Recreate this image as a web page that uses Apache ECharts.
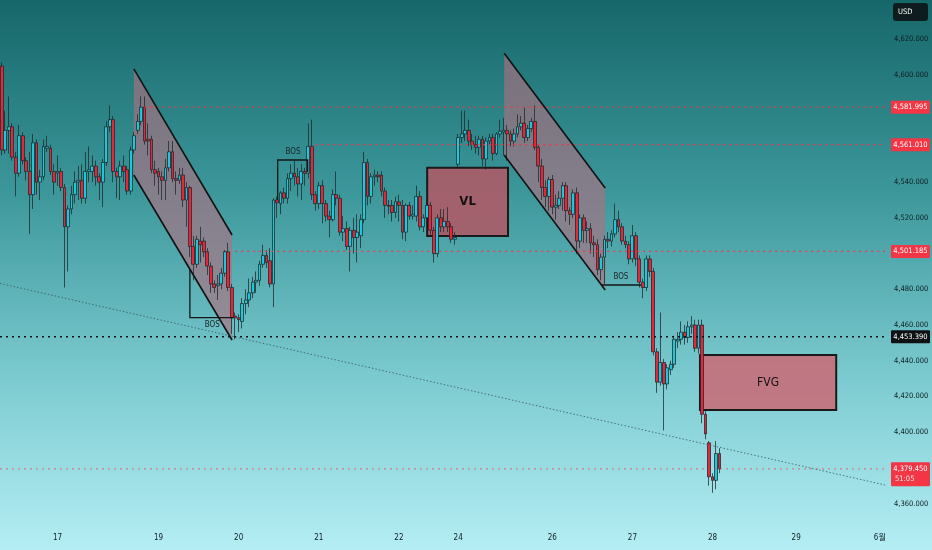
<!DOCTYPE html>
<html><head><meta charset="utf-8">
<script src="https://cdn.jsdelivr.net/npm/echarts@6/dist/echarts.min.js"></script>
<style>html,body{margin:0;padding:0;overflow:hidden}#c{width:932px;height:550px;}</style>
</head><body><div id="c"></div>
<script>
// ---------- data ----------
const SLOTS = 254;
const dayLabels = ['17','19','20','21','22','24','26','27','28','29','6월'];
const dayIndex  = [16,45,68,91,114,131,158,181,204,228,252];
const priceTicks = [4360,4400,4420,4440,4460,4480,4520,4540,4600,4620];
// [open, close, low, high]
const candles = [
[4605,4558,4555,4607],[4558,4569,4556,4580],[4569,4571,4556,4588],[4571,4554,4552,4573],[4554,4545,4532,4557],
[4545,4566,4543,4572],[4566,4552,4550,4568],[4552,4546,4541,4554],[4546,4533,4511,4557],[4533,4562,4525,4567],
[4562,4540,4533,4564],[4540,4543,4530,4547],[4543,4560,4541,4564],[4559,4560,4557,4566],[4559,4546,4544,4561],
[4546,4540,4533,4550],[4545,4546,4538,4555],[4546,4537,4535,4548],[4537,4515,4481,4539],[4515,4525,4490,4527],
[4525,4533,4522,4538],[4533,4540,4528,4546],[4540,4541,4530,4549],[4541,4531,4528,4550],[4531,4546,4528,4557],
[4546,4547,4540,4560],[4546,4549,4540,4555],[4549,4543,4538,4552],[4543,4540,4530,4545],[4540,4551,4526,4553],
[4551,4571,4549,4574],[4571,4575,4568,4583],[4575,4546,4540,4577],[4546,4543,4531,4548],[4543,4549,4530,4552],
[4549,4546,4540,4555],[4547,4535,4533,4549],[4535,4558,4533,4560],[4558,4566,4556,4568],[4569,4574,4567,4578],
[4574,4582,4572,4588],[4582,4563,4561,4588],[4564,4563,4555,4573],[4564,4547,4545,4566],[4547,4545,4538,4552],
[4546,4543,4533,4548],[4543,4541,4530,4546],[4541,4548,4530,4553],[4548,4557,4546,4563],[4557,4542,4540,4563],
[4542,4541,4533,4546],[4541,4544,4539,4548],[4544,4530,4526,4548],[4530,4537,4515,4540],[4537,4504,4498,4538],
[4504,4494,4485,4510],[4494,4508,4492,4510],[4507,4505,4495,4515],[4507,4501,4498,4509],[4501,4493,4488,4503],
[4493,4483,4478,4495],[4483,4481,4478,4485],[4482,4483,4474,4488],[4483,4489,4480,4492],[4489,4501,4487,4502],
[4501,4481,4479,4506],[4481,4464,4455,4483],[4465,4464,4452,4467],[4464,4463,4456,4466],[4462,4472,4458,4475],
[4472,4474,4466,4480],[4474,4478,4470,4486],[4478,4484,4475,4487],[4484,4485,4478,4490],[4485,4494,4482,4496],
[4494,4499,4492,4505],[4499,4495,4492,4502],[4496,4483,4481,4503],[4483,4530,4470,4531],[4530,4528.5,4520,4532],
[4528,4534,4522,4535],[4534,4531,4528,4537],[4531,4542,4528,4545],[4542,4545,4535,4550],[4545,4543,4538,4552],
[4543,4539,4532,4548],[4539,4546,4530,4550],[4546,4545,4538,4548],[4545,4560,4542,4573],[4560,4533,4530,4575],
[4533,4528,4524,4535],[4528,4538,4525,4540],[4538,4528,4517,4541],[4528,4521,4518,4530],[4521,4519,4509,4524],
[4519,4533,4518,4536],[4533,4531,4527,4546],[4531,4512,4510,4533],[4512,4514,4507,4521],[4514,4504,4502,4518],
[4504,4513,4490,4515],[4513,4509,4500,4520],[4509,4512,4495,4522],[4510,4519,4503,4522],[4519,4551,4517,4557],
[4551,4532,4527,4553],[4532,4543,4528,4545],[4543,4544,4538,4547],[4544,4543,4540,4546],[4544,4535,4532,4546],
[4535,4527,4520,4537],[4527,4526.5,4522,4530],[4527,4523,4518,4530],[4523,4529,4520,4532],[4529,4527,4518,4533],
[4527,4512,4508,4530],[4512,4527,4507,4528],[4527,4521,4519,4529],[4521,4522,4519,4527],[4521,4532,4518,4538],
[4532,4515,4513,4535],[4515,4520,4512,4522],[4520,4527,4518,4530],[4527,4513,4510,4529],[4513,4500,4495,4515],
[4500,4520,4498,4522],[4520,4515,4512,4525],[4515,4518,4512,4525],[4518,4515,4512,4526],[4515,4508,4506,4517],
[4508,4509,4505,4512],[4550,4565,4548,4567],[4565,4567,4562,4580],[4567,4569,4563,4580],[4569,4563,4560,4575],
[4563,4561,4558,4567],[4561,4559.5,4556,4566],[4559.5,4564,4555,4566],[4564,4553,4549,4566],[4553,4563,4547,4565],
[4563,4565,4561,4567],[4565,4556,4552,4567],[4556,4567,4555,4568],[4567,4568.5,4565,4575],[4568,4569,4555,4576],
[4569,4567,4552,4572],[4567,4563,4560,4569],[4563,4567,4560,4570],[4567,4571,4565,4578],[4571,4573,4569,4577],
[4573,4565,4562,4582],[4565,4570,4563,4572],[4570,4574,4568,4576],[4574,4559.5,4558,4583],[4559.5,4549,4540,4561],
[4549,4537,4530,4553],[4537,4532,4526,4541],[4532,4541.5,4524,4543],[4541.5,4526,4522,4544],[4526,4527,4519,4533],
[4527,4531,4525,4535],[4531,4538,4524,4540],[4538,4524,4518,4540],[4524,4522,4516,4526],[4522,4534,4520,4536],
[4534,4507,4500,4537],[4507,4520,4503,4522],[4520,4513,4506,4522],[4513,4514,4506,4518],[4514,4506,4500,4517],
[4506,4505,4498,4510],[4505,4491,4488,4508],[4491,4498,4485,4500],[4498,4508,4483,4510],[4508,4507,4503,4512],
[4507,4511,4504,4513],[4511,4519,4509,4528],[4519,4515,4512,4524],[4515,4507,4505,4517],[4507,4505,4503,4510],
[4505,4497,4494,4507],[4497,4510,4495,4516],[4510,4497,4493,4512],[4497,4484,4481,4499],[4484,4481,4475,4486],
[4481,4497,4479,4499],[4497,4490,4487,4499],[4490,4445,4443,4492],[4445,4428,4422,4447],[4428,4439,4426,4467],
[4439,4427,4401,4441],[4427,4436,4424,4438],[4435,4438,4432,4440],[4438,4452,4436,4454],[4451,4452,4447,4456],
[4452,4456,4449,4462],[4456,4453,4449,4460],[4453,4459,4450,4462],[4459,4460,4455,4465],[4460,4447,4445,4463],
[4447,4460,4444,4463],[4460,4410,4405,4463],[4410,4399,4396,4412],[4394,4375,4370,4395],[4375,4373,4366,4377],
[4373,4388,4368,4395],[4388,4379.45,4377,4391]
];
// horizontal levels
const levelValues = [4581.995, 4561.010, 4501.185, 4453.390, 4379.450];
const levelStart  = [41, 90, 67, -0.5, -0.5];
const timerText = '51:05';
// drawings (category index, price)
const channel1 = [[37.9,4603.4],[66.1,4510.4],[66.1,4451.6],[37.9,4544.0]];
const channel2 = [[144.2,4612.2],[173.2,4536.7],[173.2,4479.6],[144.2,4555.2]];
const vlBox  = [[122.1,4548.1],[145.3,4509.8]];
const fvgBox = [[200.4,4443.2],[239.5,4412.4]];
const bos1 = [[54.0,4490.8],[54.0,4464.1],[66.4,4464.1]];
const bos2 = [[79.2,4530.0],[79.2,4552.4],[87.8,4552.4],[87.8,4545.7]];
const bos3 = [[172.2,4482.4],[183.5,4482.4]];
const bosLabelPos = [[60.4,4459.8],[83.6,4557.0],[177.7,4487.0]];
const trendLine = [[-0.5,4483.3],[253.5,4370.4]];

// ---------- chart ----------
const FONT = "'DejaVu Sans Condensed','Liberation Sans Narrow','Noto Sans CJK KR',sans-serif";
const categories = Array.from({length: SLOTS}, (_, i) => String(i));
const labelAt = {};
dayIndex.forEach((ix, k) => { labelAt[ix] = dayLabels[k]; });
const fmt = v => Number(v).toLocaleString('en-US', {minimumFractionDigits: 3, maximumFractionDigits: 3});

function P(api, idx, val) {
  const a = api.coord([0, val]);
  const b = api.coord([1, val]);
  return [a[0] + idx * (b[0] - a[0]), a[1]];
}
const pts = (api, arr) => arr.map(p => P(api, p[0], p[1]));

function rectOf(api, box, fill) {
  const a = P(api, box[0][0], box[0][1]);
  const b = P(api, box[1][0], box[1][1]);
  return {type: 'rect', shape: {x: a[0], y: a[1], width: b[0] - a[0], height: b[1] - a[1]},
          style: {fill: fill, stroke: '#1a1a1a', lineWidth: 2}};
}

function renderBack(params, api) {
  const children = [];
  [channel1, channel2].forEach(ch => {
    children.push({type: 'polygon', shape: {points: pts(api, ch)}, style: {fill: 'rgba(172,112,128,0.64)'}});
  });
  children.push(rectOf(api, vlBox, 'rgba(170,92,104,0.92)'));
  children.push(rectOf(api, fvgBox, 'rgba(198,110,122,0.9)'));
  return {type: 'group', children};
}

function renderFront(params, api) {
  const children = [];
  const right = P(api, SLOTS - 0.5, 0)[0];
  children.push({type: 'polyline', shape: {points: pts(api, trendLine)},
    style: {stroke: 'rgba(55,85,95,0.8)', lineWidth: 1, lineDash: [1.5, 2], fill: null}});
  const lvlColor = ['#f23645', '#f23645', '#f23645', '#111417', 'rgba(242,54,69,0.55)'];
  levelValues.forEach((v, k) => {
    const a = P(api, levelStart[k], v);
    children.push({type: 'line', shape: {x1: a[0], y1: a[1], x2: right, y2: a[1]},
      style: {stroke: lvlColor[k], lineWidth: k === 3 ? 1.4 : 1.2, lineDash: [2, 4]}});
  });
  [channel1, channel2].forEach(ch => {
    const p = pts(api, ch);
    children.push({type: 'line', shape: {x1: p[0][0], y1: p[0][1], x2: p[1][0], y2: p[1][1]}, style: {stroke: '#111', lineWidth: 1.6}});
    children.push({type: 'line', shape: {x1: p[3][0], y1: p[3][1], x2: p[2][0], y2: p[2][1]}, style: {stroke: '#111', lineWidth: 1.6}});
  });
  [bos1, bos2, bos3].forEach(b => {
    children.push({type: 'polyline', shape: {points: pts(api, b)}, style: {stroke: '#151515', lineWidth: 1.3, fill: null}});
  });
  bosLabelPos.forEach(p => {
    const q = P(api, p[0], p[1]);
    children.push({type: 'text', style: {text: 'BOS', x: q[0], y: q[1], align: 'center', verticalAlign: 'middle',
      fill: '#1c2426', font: '8px ' + FONT}});
  });
  const vc = P(api, (vlBox[0][0] + vlBox[1][0]) / 2, (vlBox[0][1] + vlBox[1][1]) / 2);
  children.push({type: 'text', style: {text: 'VL', x: vc[0], y: vc[1], align: 'center', verticalAlign: 'middle',
    fill: '#111', font: 'bold 13px ' + FONT}});
  const fc = P(api, (fvgBox[0][0] + fvgBox[1][0]) / 2, (fvgBox[0][1] + fvgBox[1][1]) / 2);
  children.push({type: 'text', style: {text: 'FVG', x: fc[0], y: fc[1], align: 'center', verticalAlign: 'middle',
    fill: '#111', font: '12px ' + FONT}});
  const tagBg = ['#f23645', '#f23645', '#f23645', '#0d1113', '#f23645'];
  levelValues.forEach((v, k) => {
    const y = P(api, 0, v)[1];
    const x = right + 6;
    const two = k === 4;
    children.push({type: 'rect', shape: {x: x, y: y - 6.5, width: 39, height: two ? 24 : 13, r: 1},
      style: {fill: tagBg[k]}});
    children.push({type: 'text', style: {text: fmt(v), x: x + 19.5, y: y, align: 'center', verticalAlign: 'middle',
      fill: '#ffffff', font: '7.5px ' + FONT}});
    if (two) {
      children.push({type: 'text', style: {text: timerText, x: x + 4, y: y + 10, align: 'left', verticalAlign: 'middle',
        fill: '#ffe4e6', font: '7.5px ' + FONT}});
    }
  });
  return {type: 'group', children};
}

const chart = echarts.init(document.getElementById('c'));
chart.setOption({
  animation: false,
  backgroundColor: {type: 'linear', x: 0, y: 0, x2: 0, y2: 1, colorStops: [
    {offset: 0, color: '#166769'}, {offset: 0.35, color: '#3c979b'},
    {offset: 0.68, color: '#7acacf'}, {offset: 1, color: '#b4eef4'}]},
  grid: {left: 0, right: 47, top: 0, bottom: 25, containLabel: false, outerBoundsMode: 'none'},
  xAxis: {
    type: 'category', data: categories, boundaryGap: true,
    axisLine: {show: false}, axisTick: {show: false}, splitLine: {show: false},
    axisLabel: {
      interval: (i) => labelAt[i] !== undefined,
      formatter: (v, i) => labelAt[i] || '',
      color: '#0f1d20', fontSize: 8, fontFamily: FONT, margin: 9
    }
  },
  yAxis: {
    type: 'value', position: 'right', min: 4348, max: 4642, scale: true,
    axisLine: {show: false}, axisTick: {show: false}, splitLine: {show: false},
    axisLabel: {customValues: priceTicks, formatter: v => fmt(v), color: '#0f1d20', fontSize: 7.5, fontFamily: FONT, margin: 9}
  },
  graphic: [
    {type: 'rect', left: 893, top: 3, shape: {width: 35, height: 18, r: 3}, style: {fill: '#0e1c1e'}, z: 100},
    {type: 'text', left: 898, top: 8, style: {text: 'USD', fill: '#fff', font: '7.5px ' + FONT}, z: 101}
  ],
  series: [
    {type: 'custom', name: 'back', renderItem: renderBack, data: [[0, 4500]], z: 1, silent: true, clip: false},
    {type: 'candlestick', name: 'XAUUSD', data: candles, barWidth: 3.3, z: 3,
      itemStyle: {color: '#1fc8d9', color0: '#ec2439', borderColor: '#1d2628', borderColor0: '#1d2628', borderWidth: 0.75}},
    {type: 'custom', name: 'front', renderItem: renderFront, data: [[0, 4500]], z: 5, silent: true, clip: false}
  ]
});
</script>
</body></html>
